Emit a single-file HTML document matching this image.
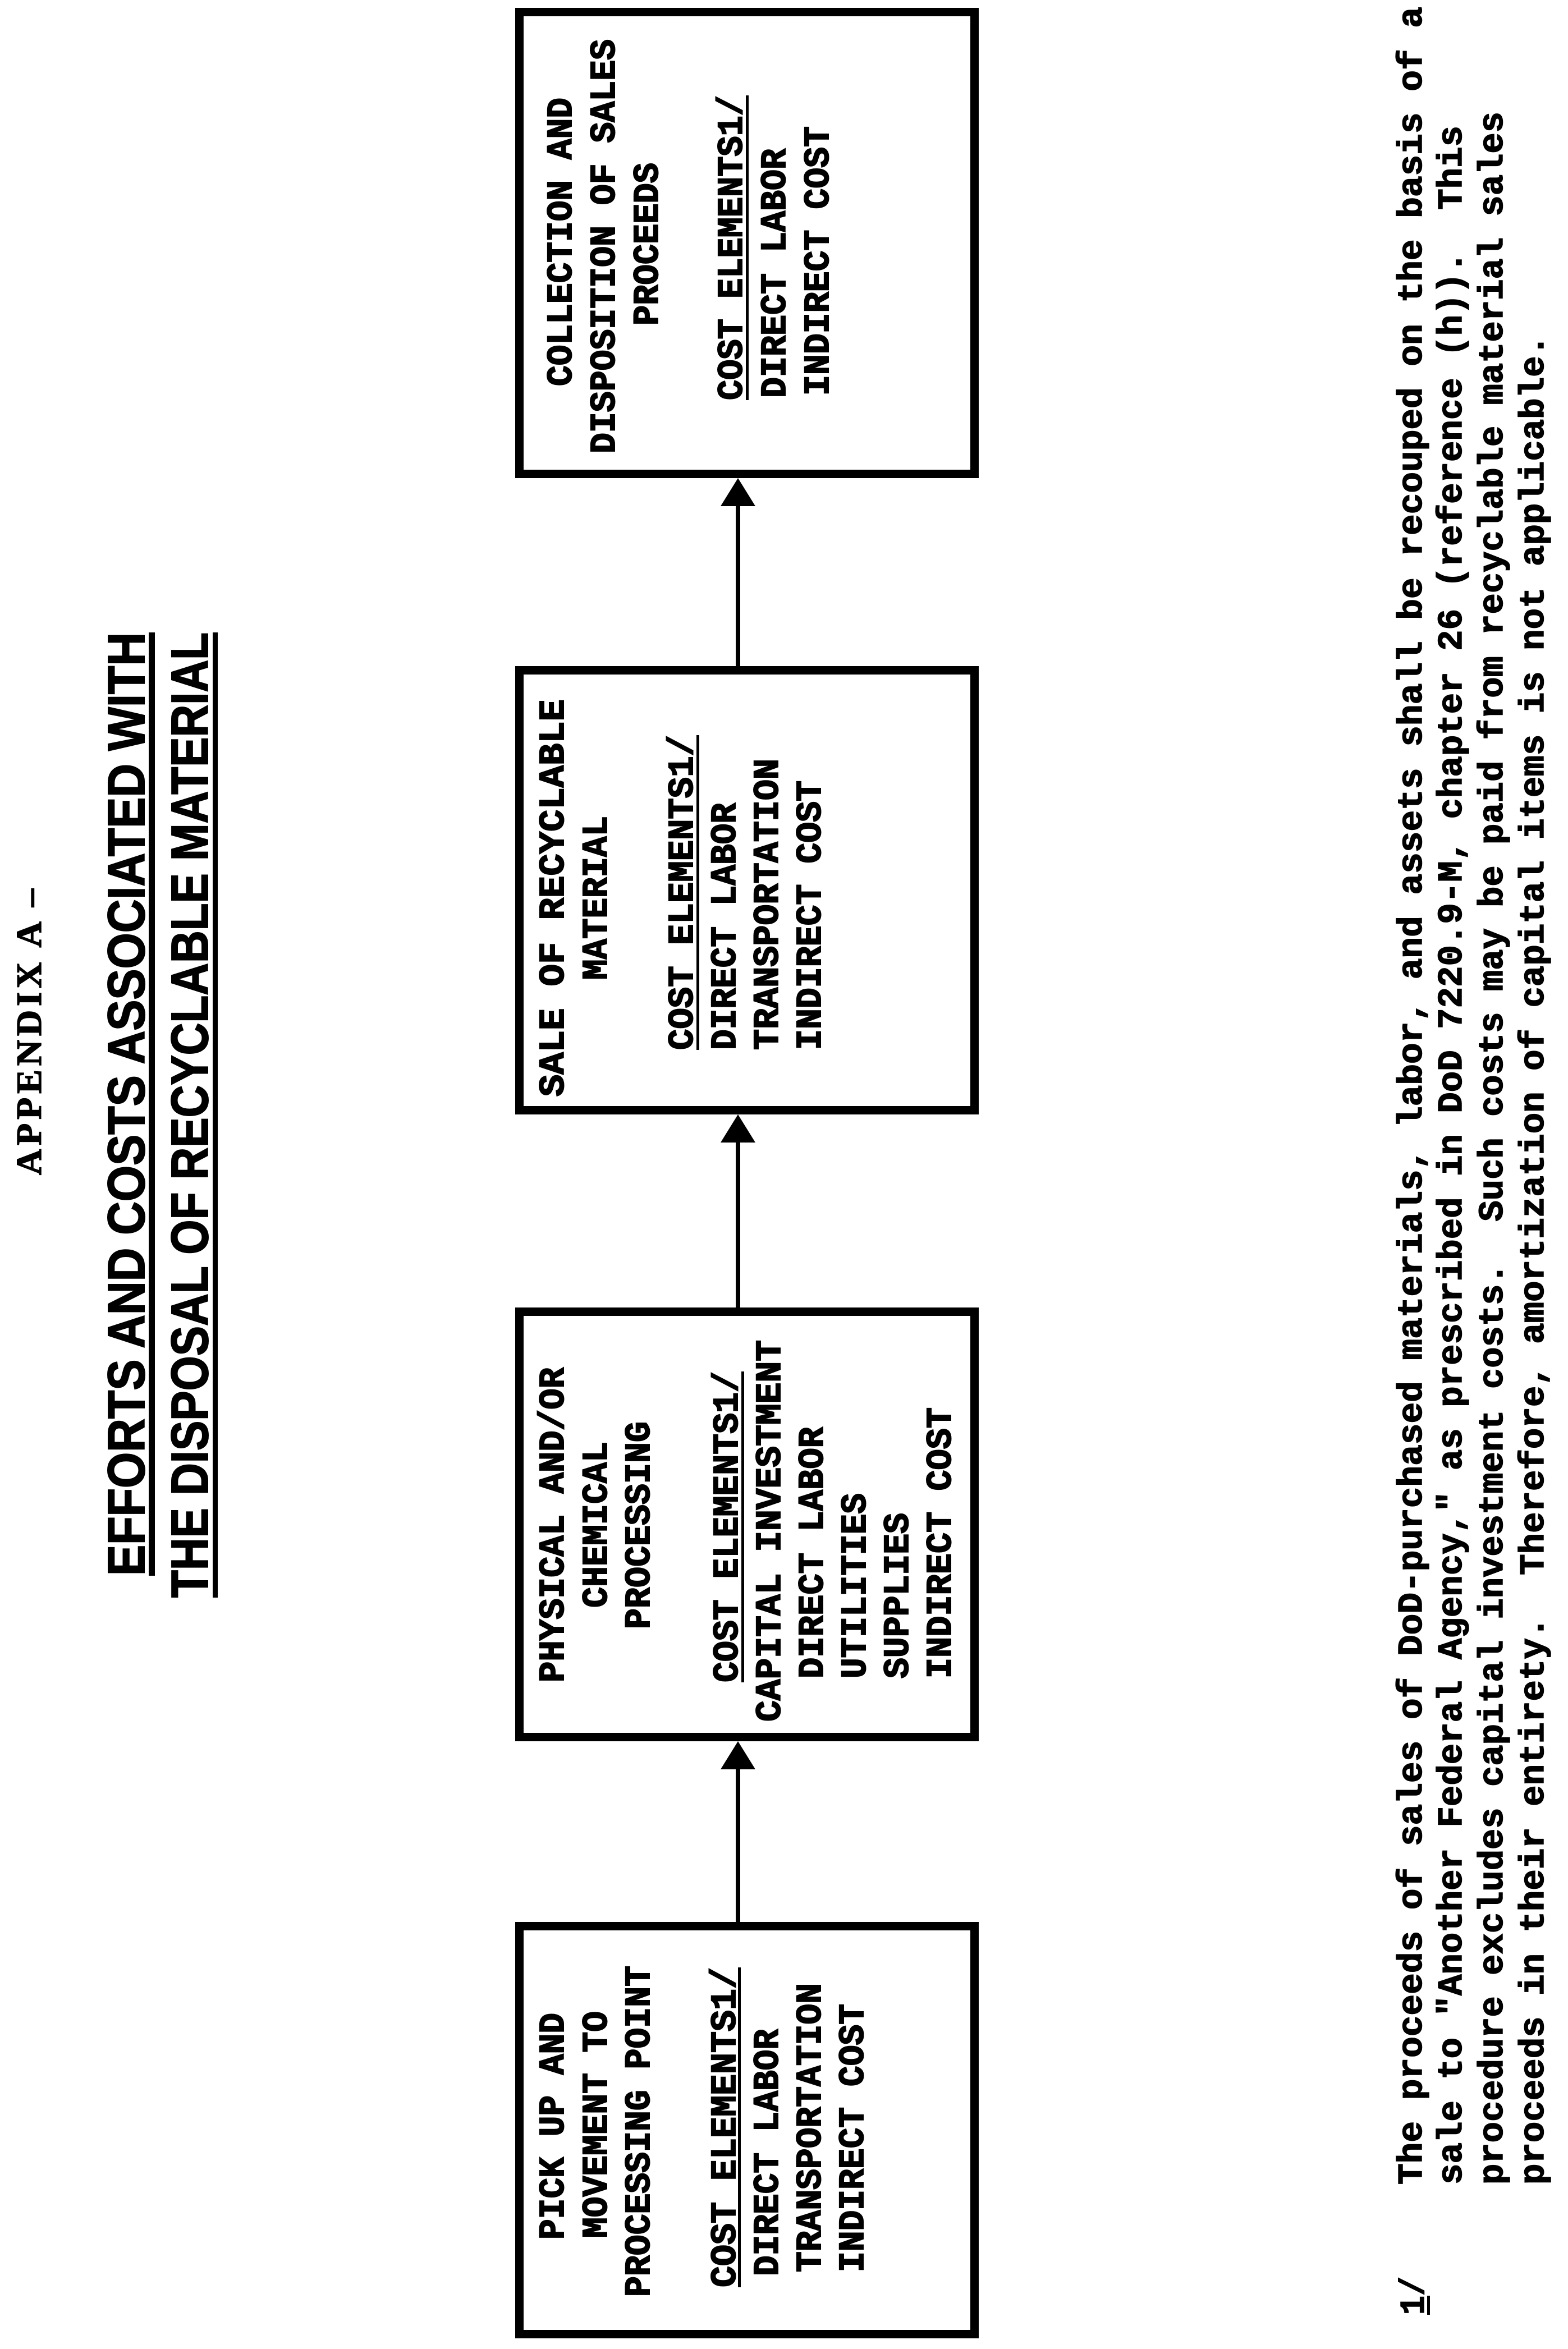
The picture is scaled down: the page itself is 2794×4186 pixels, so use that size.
<!DOCTYPE html>
<html><head><meta charset="utf-8"><style>
html,body{margin:0;padding:0;background:#fff;}
svg{display:block;}
.b{font-family:"Liberation Mono",monospace;font-weight:bold;font-size:64px;fill:#000;stroke:#000;stroke-width:2;}
.f{font-family:"Liberation Mono",monospace;font-weight:bold;font-size:62px;fill:#000;stroke:#000;stroke-width:1.5;}
.t{font-family:"Liberation Sans",sans-serif;font-weight:bold;font-size:93px;fill:#000;stroke:#000;stroke-width:2;}
.a{font-family:"Liberation Serif",serif;font-weight:bold;font-size:64px;fill:#000;stroke:#000;stroke-width:1.5;}
</style></head><body>
<svg width="2794" height="4186" viewBox="0 0 2794 4186" xmlns="http://www.w3.org/2000/svg">
<rect width="2794" height="4186" fill="#fff"/>
<g transform="translate(0,4186) rotate(-90)">
  <text class="a" x="2092" y="73" textLength="510" lengthAdjust="spacing">APPENDIX A –</text>
  <text class="t" x="1378" y="257" textLength="1681" lengthAdjust="spacingAndGlyphs">EFFORTS AND COSTS ASSOCIATED WITH</text>
  <rect x="1378" y="265" width="1681" height="11" fill="#000"/>
  <text class="t" x="1339" y="370" textLength="1720" lengthAdjust="spacingAndGlyphs">THE DISPOSAL OF RECYCLABLE MATERIAL</text>
  <rect x="1339" y="379" width="1720" height="9" fill="#000"/>

  <rect x="26.5" y="925.5" width="727" height="811" fill="none" stroke="#000" stroke-width="15"/>
  <rect x="1090.5" y="925.5" width="758" height="811" fill="none" stroke="#000" stroke-width="15"/>
  <rect x="2207.5" y="925.5" width="784" height="811" fill="none" stroke="#000" stroke-width="15"/>
  <rect x="3341.5" y="925.5" width="823" height="811" fill="none" stroke="#000" stroke-width="15"/>

  <rect x="761" y="1311" width="280" height="8" fill="#000"/>
  <polygon points="1083,1315 1033,1284 1033,1346" fill="#000"/>
  <rect x="1856" y="1311" width="300" height="8" fill="#000"/>
  <polygon points="2200,1315 2150,1284 2150,1346" fill="#000"/>
  <rect x="2999" y="1311" width="290" height="8" fill="#000"/>
  <polygon points="3334,1315 3284,1284 3284,1346" fill="#000"/>

  <text class="b" x="195" y="1004" textLength="404" lengthAdjust="spacingAndGlyphs">PICK UP AND</text>
  <text class="b" x="198" y="1081" textLength="404" lengthAdjust="spacingAndGlyphs">MOVEMENT TO</text>
  <text class="b" x="93" y="1157" textLength="590" lengthAdjust="spacingAndGlyphs">PROCESSING POINT</text>
  <text class="b" x="110" y="1310" textLength="570" lengthAdjust="spacingAndGlyphs">COST ELEMENTS1/</text>
  <rect x="110" y="1315" width="570" height="5" fill="#000"/>
  <text class="b" x="130" y="1386" textLength="440" lengthAdjust="spacingAndGlyphs">DIRECT LABOR</text>
  <text class="b" x="137" y="1462" textLength="515" lengthAdjust="spacingAndGlyphs">TRANSPORTATION</text>
  <text class="b" x="137" y="1538" textLength="478" lengthAdjust="spacingAndGlyphs">INDIRECT COST</text>

  <text class="b" x="1188" y="1004" textLength="561" lengthAdjust="spacingAndGlyphs">PHYSICAL AND/OR</text>
  <text class="b" x="1321" y="1081" textLength="296" lengthAdjust="spacingAndGlyphs">CHEMICAL</text>
  <text class="b" x="1283" y="1157" textLength="370" lengthAdjust="spacingAndGlyphs">PROCESSING</text>
  <text class="b" x="1188" y="1314" textLength="554" lengthAdjust="spacingAndGlyphs">COST ELEMENTS1/</text>
  <rect x="1188" y="1321" width="554" height="5" fill="#000"/>
  <text class="b" x="1118" y="1390" textLength="680" lengthAdjust="spacingAndGlyphs">CAPITAL INVESTMENT</text>
  <text class="b" x="1195" y="1466" textLength="448" lengthAdjust="spacingAndGlyphs">DIRECT LABOR</text>
  <text class="b" x="1195" y="1542" textLength="330" lengthAdjust="spacingAndGlyphs">UTILITIES</text>
  <text class="b" x="1195" y="1618" textLength="295" lengthAdjust="spacingAndGlyphs">SUPPLIES</text>
  <text class="b" x="1195" y="1694" textLength="483" lengthAdjust="spacingAndGlyphs">INDIRECT COST</text>

  <text class="b" x="2232" y="1004" textLength="708" lengthAdjust="spacingAndGlyphs">SALE OF RECYCLABLE</text>
  <text class="b" x="2440" y="1081" textLength="292" lengthAdjust="spacingAndGlyphs">MATERIAL</text>
  <text class="b" x="2315" y="1234" textLength="561" lengthAdjust="spacingAndGlyphs">COST ELEMENTS1/</text>
  <rect x="2315" y="1241" width="561" height="5" fill="#000"/>
  <text class="b" x="2315" y="1310" textLength="440" lengthAdjust="spacingAndGlyphs">DIRECT LABOR</text>
  <text class="b" x="2315" y="1386" textLength="519" lengthAdjust="spacingAndGlyphs">TRANSPORTATION</text>
  <text class="b" x="2315" y="1462" textLength="480" lengthAdjust="spacingAndGlyphs">INDIRECT COST</text>

  <text class="b" x="3498" y="1018" textLength="514" lengthAdjust="spacingAndGlyphs">COLLECTION AND</text>
  <text class="b" x="3378" y="1095" textLength="738" lengthAdjust="spacingAndGlyphs">DISPOSITION OF SALES</text>
  <text class="b" x="3606" y="1172" textLength="290" lengthAdjust="spacingAndGlyphs">PROCEEDS</text>
  <text class="b" x="3473" y="1322" textLength="543" lengthAdjust="spacingAndGlyphs">COST ELEMENTS1/</text>
  <rect x="3473" y="1329" width="543" height="5" fill="#000"/>
  <text class="b" x="3477" y="1399" textLength="444" lengthAdjust="spacingAndGlyphs">DIRECT LABOR</text>
  <text class="b" x="3481" y="1476" textLength="480" lengthAdjust="spacingAndGlyphs">INDIRECT COST</text>

  <text class="f" x="61" y="2537" textLength="68" lengthAdjust="spacingAndGlyphs">1/</text>
  <rect x="61" y="2543" width="34" height="5" fill="#000"/>
  <text class="f" x="293" y="2533" textLength="3881" lengthAdjust="spacingAndGlyphs">The proceeds of sales of DoD-purchased materials, labor, and assets shall be recouped on the basis of a</text>
  <text class="f" x="293" y="2604" textLength="3669" lengthAdjust="spacingAndGlyphs" xml:space="preserve">sale to "Another Federal Agency," as prescribed in DoD 7220.9-M, chapter 26 (reference (h)).  This</text>
  <text class="f" x="293" y="2677" textLength="3694" lengthAdjust="spacingAndGlyphs" xml:space="preserve">procedure excludes capital investment costs.  Such costs may be paid from recyclable material sales</text>
  <text class="f" x="293" y="2750" textLength="3296" lengthAdjust="spacingAndGlyphs" xml:space="preserve">proceeds in their entirety.  Therefore, amortization of capital items is not applicable.</text>
</g>
</svg>
</body></html>
